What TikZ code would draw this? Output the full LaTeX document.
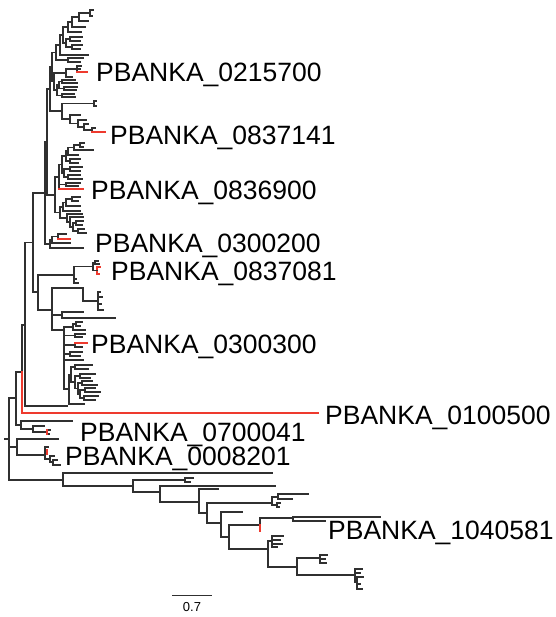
\documentclass[tikz,border=0pt]{standalone}
\usepackage{fontspec}
\setmainfont{Liberation Sans}
\definecolor{treegray}{HTML}{303030}
\definecolor{treered}{HTML}{EE3A2E}
\tikzset{
  br/.style={line width=1.5pt, draw=treegray, line cap=rect},
  rbr/.style={line width=1.5pt, draw=treered, line cap=rect},
  lbl/.style={inner sep=0pt, anchor=base west, font=\fontsize{26.5}{30}\selectfont},
}
% \tclade[style]{node x}{childx/childy, ...}: horizontal branch to every child
% plus the vertical bar spanning the children
\newcommand\tclade[3][br]{%
  \gdef\tcLo{9999}\gdef\tcHi{-9999}%
  \foreach \cx/\cy in {#3}{%
    \draw[#1] (#2,\cy) -- (\cx,\cy);%
    \pgfmathsetmacro\tcA{min(\tcLo,\cy)}\xdef\tcLo{\tcA}%
    \pgfmathsetmacro\tcB{max(\tcHi,\cy)}\xdef\tcHi{\tcB}%
  }%
  \draw[#1] (#2,\tcLo) -- (#2,\tcHi);%
}
\begin{document}
\begin{tikzpicture}[x=1pt,y=-1pt]
\fill[white] (0,0) rectangle (555,617);
\useasboundingbox (0,0) rectangle (555,617);

% ---------- upper ladder ----------
\tclade{90}{93/10, 92/16}
\tclade{79}{90/13, 88/21}
\tclade{72}{79/17, 85/27}
\tclade{68}{72/22, 81/32}
\tclade{70}{82/37, 80/41}
\tclade{72}{82/45, 80/49}
\tclade{66}{70/39, 72/47}
\tclade{63}{68/27, 66/43}
\tclade{60}{63/35, 88/55}
\tclade{68}{83/58, 80/62}
\tclade{56}{60/45, 68/60}
\tclade{77}{81/66, 80/69, 87/72}
\tclade{66}{77/69, 72/77}
\tclade{62}{75/80, 77/83}
\tclade{64}{77/87, 76/90}
\tclade{59}{62/81.5, 64/88.5}
\tclade{62}{74/94, 75/97}
\tclade{57}{59/85, 62/95.5}
\tclade{54}{66/73, 57/90}
\tclade{52}{56/52.5, 54/81.5}
\tclade{94}{96/101, 96/106}
\tclade{92}{95/128, 105/132}
\tclade{84}{92/130, 88/124}
\tclade{78}{84/127, 86/120}
\tclade{70}{78/123.5, 80/115}
\tclade{62}{94/103.5, 70/119}
\tclade{50}{52/67, 62/111}

% ---------- 0836900 group ----------
\tclade{80}{84/143, 83/147}
\tclade{74}{80/145, 93/150}
\tclade{68}{74/147.5, 78/155}
\tclade{70}{80/159, 78/163}
\tclade{66}{68/151, 70/161}
\tclade{70}{82/167, 80/171}
\tclade{68}{80/175, 82/179}
\tclade{64}{70/169, 68/177}
\tclade{62}{66/156, 64/173}
\tclade{66}{80/183, 78/186}
\tclade{59}{62/164.5, 66/184.5, 83/189}
\tclade{72}{80/197, 78/201}
\tclade{66}{72/199, 80/206}
\tclade{63}{66/202.5, 80/211}
\tclade{76}{83/221, 82/225}
\tclade{78}{84/229, 86/233}
\tclade{73}{76/223, 78/231}
\tclade{70}{83/217, 73/227}
\tclade{67}{82/214, 70/222}
\tclade{60}{63/207, 67/218}
\tclade{55}{59/177, 60/212.5}
\tclade{47}{50/89, 55/195}

% ---------- 0300200 group ----------
\tclade{58}{66/234, 70/239}
\tclade{52}{58/236.5, 70/243}
\tclade{50}{52/240, 83/248}
\tclade{45}{47/142, 50/244}
\tclade{33}{45/193, 38/292}

% ---------- 0837081 group ----------
\tclade{95}{98/261, 99/264}
\tclade[rbr]{97}{100/267, 99/274}
\tclade{93}{95/262.5, 97/270.5}
\tclade{74}{93/266.5, 76/279, 78/283}

% ---------- 0300300 group ----------
\tclade{98}{100/292, 102/297, 101/304, 103/310}
\tclade{83}{98/301, 83/288}
\tclade{62}{83/312, 115/318}
\tclade{76}{82/322, 80/326}
\tclade{73}{76/324, 85/330}
\tclade{75}{85/334, 82/337}
\tclade{75}{87/343, 82/347}
\tclade{70}{82/352, 80/356}
\tclade{75}{92/365, 88/369}
\tclade{80}{95/374, 90/378}
\tclade{82}{92/381, 97/385}
\tclade{85}{95/388, 100/392}
\tclade{84}{98/396, 95/400}
\tclade{80}{85/390, 84/398}
\tclade{78}{82/383, 80/394}
\tclade{75}{80/376, 78/388.5}
\tclade{71}{75/367, 75/382}
\tclade{69}{71/374.5, 84/404}
\tclade{64}{73/327, 75/335.5, 75/345, 70/354, 83/360, 69/389}
\tclade{52}{83/288, 62/315, 64/330}
\tclade{38}{74/275, 52/310}
\tclade{25}{33/242.5, 67/406}

% ---------- backbone ----------
\draw[br] (22,325) -- (22,372);
\draw[br] (22,325) -- (25,325);
\tclade{16}{22/372, 21/425}
\tclade{21}{72/421, 33/429}
\tclade{33}{44/426, 47/432}
\tclade{47}{50/430, 49/434}
\tclade{17}{58/439, 45/455}
\tclade{45}{48/447, 47/452, 50/459}
\tclade{50}{54/456, 53/462}
\tclade{53}{57/460, 60/465}
\tclade{9}{16/398, 17/447, 63/480}
\draw[br] (5,439) -- (9,439);

% ---------- lower group ----------
\tclade{63}{272/473, 133/486}
\tclade{133}{185/480, 160/492}
\tclade{185}{193/478, 190/482}
\tclade{160}{275/486, 199/502}
\tclade{199}{218/489, 207/513}
\tclade{207}{272/503, 221/523}
\tclade{272}{278/497, 277/505}
\tclade{278}{308/494, 292/499}
\tclade{277}{280/503, 279/507}
\tclade{221}{242/512, 229/537}
\tclade{229}{260/525, 268/549}
\tclade{260}{293/518, 260/531}
\tclade{293}{380/517, 325/521}
\tclade{268}{272/541, 297/567}
\tclade{272}{283/536, 280/540, 282/544, 277/547}
\tclade{297}{320/558, 355/575}
\tclade{320}{327/555, 325/559, 326/563}
\tclade{355}{362/569, 360/573, 357/582}
\tclade{357}{363/577, 360/584, 362/589}

% ---------- highlighted branches ----------
\draw[rbr] (77,72) -- (87,72);
\draw[rbr] (92,132) -- (105,132);
\draw[rbr] (59,189) -- (83,189);
\draw[rbr] (58,239) -- (70,239);
\draw[rbr] (75,343) -- (87,343);
\draw[rbr] (22,372) -- (22,413) -- (318,413);
\draw[rbr] (47,430) -- (47,434);
\draw[rbr] (47,450) -- (47,454);
\draw[rbr] (260,525) -- (260,531);

% ---------- labels ----------
\node[lbl] (t1) at (96,82) {PBANKA\_0215700};
\node[lbl] (t2) at (110,145) {PBANKA\_0837141};
\node[lbl] (t3) at (91,200) {PBANKA\_0836900};
\node[lbl] (t4) at (95,252) {PBANKA\_0300200};
\node[lbl] (t5) at (111,280) {PBANKA\_0837081};
\node[lbl] (t6) at (91,353) {PBANKA\_0300300};
\node[lbl] (t7) at (325,424) {PBANKA\_0100500};
\node[lbl] (t8) at (80,441) {PBANKA\_0700041};
\node[lbl] (t9) at (65,465) {PBANKA\_0008201};
\node[lbl] (t10) at (328,539) {PBANKA\_1040581};

% ---------- scale bar ----------
\coordinate (s0) at (172,595);
\coordinate (s1) at (212,595);
\draw[draw=treegray, line width=1pt] (s0) -- (s1);
\node[inner sep=0pt, anchor=base, font=\fontsize{13}{15}\selectfont] (sl) at (192,611) {0.7};
\end{tikzpicture}
\end{document}
